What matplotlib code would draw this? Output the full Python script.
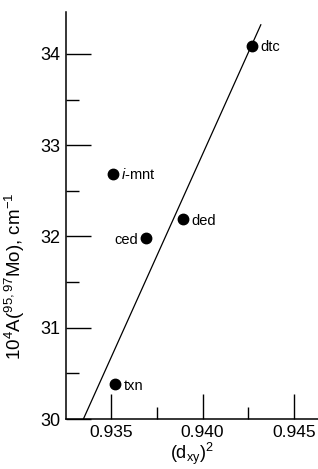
import matplotlib
matplotlib.use("Agg")
import matplotlib.pyplot as plt
from matplotlib.ticker import MultipleLocator, FixedLocator

plt.rcParams['font.family'] = ['Liberation Sans', 'DejaVu Sans']
plt.rcParams['mathtext.fontset'] = 'custom'
plt.rcParams['mathtext.rm'] = 'Liberation Sans'
plt.rcParams['mathtext.it'] = 'Liberation Sans:italic'

# complexes: (d_xy)^2 vs 10^4 A(95,97Mo)
names = ['dtc', '$i$-mnt', 'ded', 'ced', 'txn']
dxy2 = [0.94272, 0.93511, 0.93894, 0.93693, 0.93524]
a_mo = [34.09, 32.69, 32.19, 31.98, 30.38]
label_side = ['right', 'right', 'right', 'left', 'right']

# fitted line end points
fit_x = [0.93350, 0.94318]
fit_y = [30.0, 34.32]

xticks = [0.935, 0.940, 0.945]
xtick_labels = ['0.935', '0.940', '0.945']
yticks = [30, 31, 32, 33, 34]

fig = plt.figure(figsize=(3.18, 4.69), dpi=100)
ax = fig.add_axes([0.2075, 0.1066, 0.7925, 0.8678])

ax.plot(fit_x, fit_y, color='black', lw=0.9)
ax.plot(dxy2, a_mo, 'o', color='black', ms=7.5)

for x, y, s, side in zip(dxy2, a_mo, names, label_side):
    if side == 'right':
        ax.annotate(s, (x, y), xytext=(6, -1), textcoords='offset points',
                    ha='left', va='center', fontsize=10.5)
    else:
        ax.annotate(s, (x, y), xytext=(-6, -1), textcoords='offset points',
                    ha='right', va='center', fontsize=10.5)

ax.set_xlim(0.93255, 0.9463)
ax.set_ylim(30, 34.46)

ax.spines['top'].set_visible(False)
ax.spines['right'].set_visible(False)
ax.spines['left'].set_linewidth(1.1)
ax.spines['bottom'].set_linewidth(1.1)

ax.xaxis.set_major_locator(FixedLocator(xticks))
ax.set_xticklabels(xtick_labels)
ax.xaxis.set_minor_locator(FixedLocator([0.9375, 0.9425]))
ax.yaxis.set_major_locator(FixedLocator(yticks))
ax.yaxis.set_minor_locator(MultipleLocator(0.5))

ax.tick_params(axis='both', which='major', direction='in', length=18, width=1.0,
               labelsize=12.5)
ax.tick_params(axis='both', which='minor', direction='in', length=9, width=1.0)
ax.tick_params(axis='x', which='major', pad=4)
ax.tick_params(axis='y', which='major', pad=4, labelsize=13)

ax.set_xlabel('(d$_{\\mathrm{xy}}$)$^2$', fontsize=13, labelpad=1)
ax.set_ylabel('10$^4$A($^{95,97}$Mo), cm$^{-1}$', fontsize=13.5)
ax.yaxis.set_label_coords(-0.155, 0.35)

fig.savefig('out.png', dpi=100)
